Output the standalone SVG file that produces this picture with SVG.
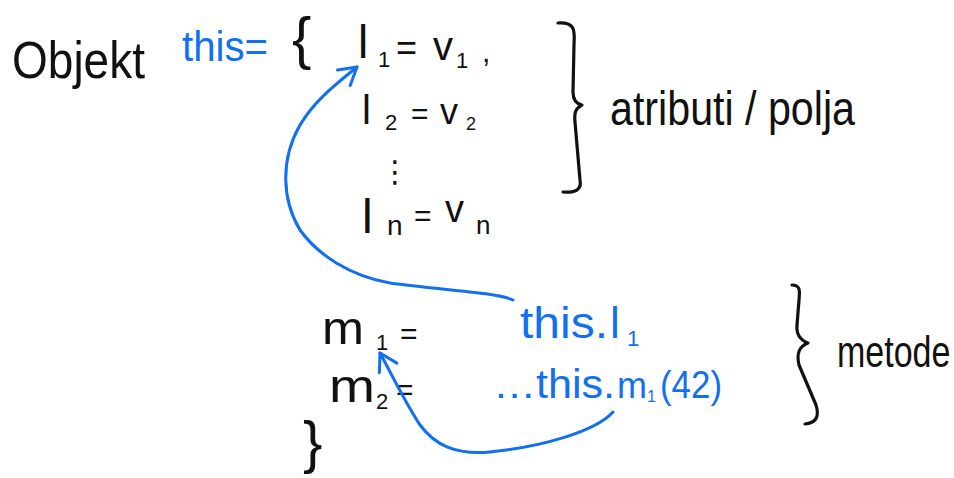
<svg xmlns="http://www.w3.org/2000/svg" width="954" height="478" viewBox="0 0 954 478">
<style>
text{font-family:"Liberation Sans","DejaVu Sans",sans-serif;}
.k{fill:#111;}
.b{fill:#1170f0;}
.sub{font-size:22px;}
.br{fill:none;stroke:#111;stroke-width:3.2;stroke-linecap:round;stroke-linejoin:round;}
.ar{fill:none;stroke:#1170f0;stroke-width:3;stroke-linecap:round;stroke-linejoin:round;}
</style>
<defs>
<marker id="ah" viewBox="-22 -14 26 28" markerWidth="26" markerHeight="28" refX="0" refY="0" orient="auto" markerUnits="userSpaceOnUse">
<path d="M-17,-10 L0,0 L-17,10" fill="none" stroke="#1170f0" stroke-width="3" stroke-linecap="round" stroke-linejoin="round"/>
</marker>
</defs>
<rect width="954" height="478" fill="#fff"/>

<g id="header">
<text class="k" x="12" y="78" font-size="52" textLength="133" lengthAdjust="spacingAndGlyphs">Objekt</text>
<text class="b" x="182" y="61" font-size="42" textLength="86" lengthAdjust="spacingAndGlyphs">this=</text>
<text class="k" x="292" y="58" font-size="58">{</text>
</g>

<g id="field1">
<text class="k" x="358" y="58" font-size="46">l</text>
<text class="k sub" x="378" y="67">1</text>
<text class="k" x="396" y="60" font-size="36">=</text>
<text class="k" x="433" y="60" font-size="40">v</text>
<text class="k sub" x="456" y="68">1</text>
<text class="k" x="482" y="62" font-size="30">,</text>
</g>

<g id="field2">
<text class="k" x="362" y="124" font-size="40">l</text>
<text class="k sub" x="385" y="130">2</text>
<text class="k" x="411" y="124" font-size="30">=</text>
<text class="k" x="440" y="124" font-size="36">v</text>
<text class="k" x="466" y="130" font-size="18">2</text>
</g>

<g id="dots">
<text class="k" x="380" y="182" font-size="30" font-family="DejaVu Sans">⋮</text>
</g>

<g id="fieldn">
<text class="k" x="362" y="233" font-size="48">l</text>
<text class="k" x="387" y="235" font-size="28">n</text>
<text class="k" x="414" y="226" font-size="30">=</text>
<text class="k" x="445" y="222" font-size="38">v</text>
<text class="k" x="476" y="234" font-size="26">n</text>
</g>

<g id="atributi">
<path class="br" d="M558,23 C575,22 575,30 574,45 L573,92 C573,100 577,104 582,105 C576,108 574,112 575,122 L580,180 C582,190 575,193 563,192"/>
<text class="k" x="610" y="125" font-size="48" textLength="245" lengthAdjust="spacingAndGlyphs">atributi / polja</text>
</g>

<g id="method1">
<text class="k" x="322" y="344" font-size="46" textLength="42" lengthAdjust="spacingAndGlyphs">m</text>
<text class="k sub" x="376" y="350">1</text>
<text class="k" x="400" y="344" font-size="30">=</text>
<text class="b" x="520" y="338" font-size="44" textLength="88" lengthAdjust="spacingAndGlyphs">this.</text>
<text class="b" x="610" y="338" font-size="44">l</text>
<text class="b sub" x="627" y="346">1</text>
</g>

<g id="method2">
<text class="k" x="329" y="402" font-size="46" textLength="46" lengthAdjust="spacingAndGlyphs">m</text>
<text class="k sub" x="376" y="409">2</text>
<text class="k" x="396" y="400" font-size="30">=</text>
<text class="b" x="493" y="398" font-size="40" textLength="122" lengthAdjust="spacingAndGlyphs">…this.</text>
<text class="b" x="617" y="398" font-size="36" textLength="30" lengthAdjust="spacingAndGlyphs">m</text>
<text class="b" x="647" y="402" font-size="16">1</text>
<text class="b" x="660" y="398" font-size="38" textLength="62" lengthAdjust="spacingAndGlyphs">(42)</text>
</g>

<g id="close">
<text class="k" x="303" y="462" font-size="58">}</text>
</g>

<g id="metode">
<path class="br" d="M792,285 C800,285 800,290 799,300 L797,325 C796,335 800,340 808,343 C800,346 796,352 799,365 L816,405 C820,418 815,423 805,424"/>
<g transform="translate(837,367) scale(1,1.3)">
<text class="k" x="0" y="0" font-size="34">metode</text>
</g>
</g>

<g id="connectors">
<path class="ar" marker-end="url(#ah)" d="M513,300 C495,292 440,290 390,283 C350,276 318,255 300,230 C282,200 280,160 300,125 C315,100 335,85 357,67"/>
<path class="ar" marker-end="url(#ah)" d="M613,412 C595,432 540,447 490,452 C455,455 435,445 420,425 C405,402 392,375 380,353"/>
</g>
</svg>
